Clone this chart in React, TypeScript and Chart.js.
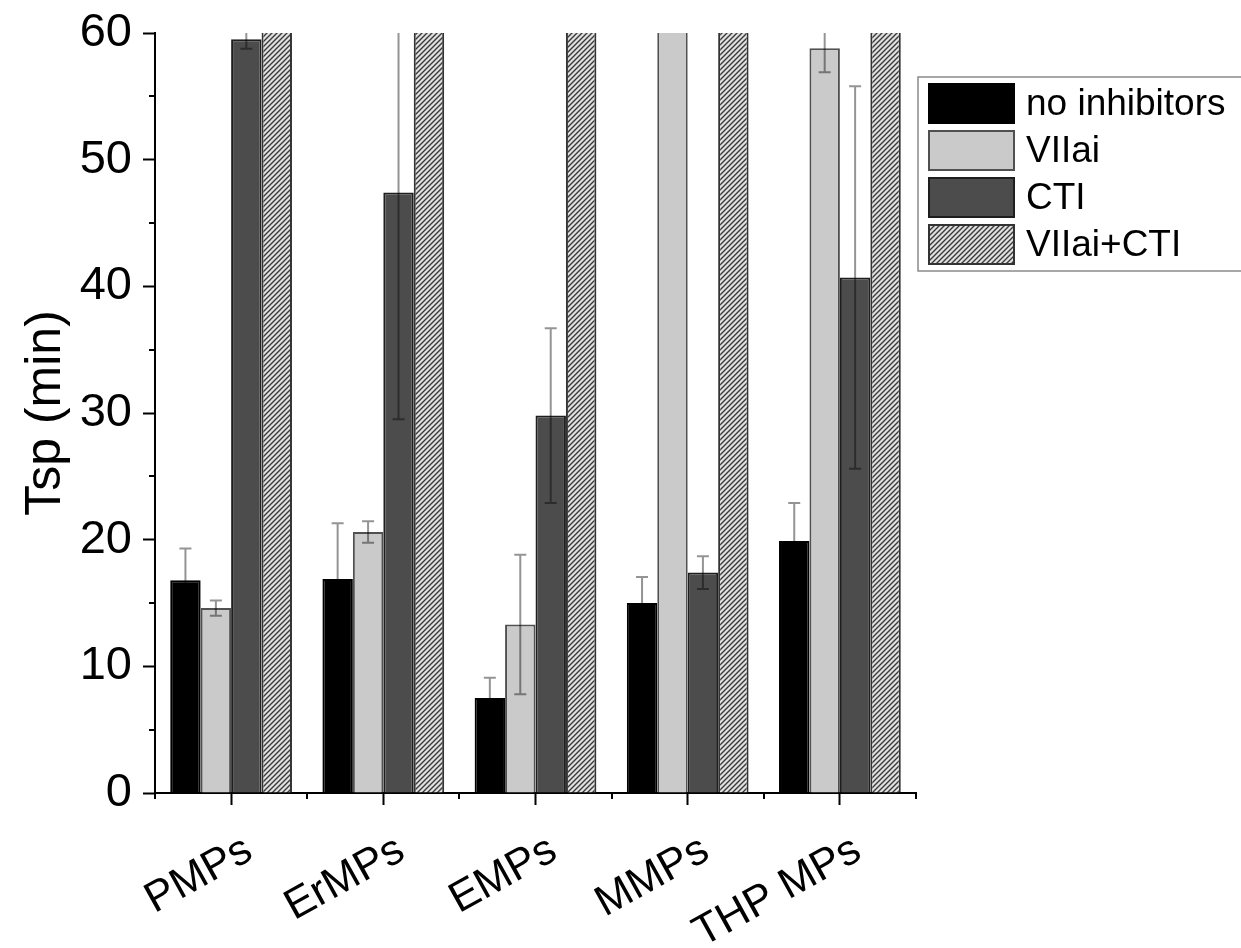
import React, { useEffect, useRef } from 'react';
import { Chart, registerables } from 'chart.js';

Chart.register(...registerables);

const FONT = '"Liberation Sans", Arial, Helvetica, sans-serif';

const categories = ['PMPs', 'ErMPs', 'EMPs', 'MMPs', 'THP MPs'];
const seriesLabels = ['no inhibitors', 'VIIai', 'CTI', 'VIIai+CTI'];

// values (min); values above 60 run off the top of the axis in the original
const noInhibitors = [16.8, 16.9, 7.5, 15.0, 19.9];
const noInhibitorsErr = [2.5, 4.4, 1.6, 2.05, 3.0];
const viiai = [14.6, 20.6, 13.3, 65, 58.8];
const viiaiErr = [0.6, 0.85, 5.5, 0, 1.9];
const cti = [59.5, 47.4, 29.8, 17.4, 40.7];
const ctiErr = [0.75, 17.9, 6.9, 1.3, 15.1];
const viiaiCti = [65, 65, 65, 65, 65];
const viiaiCtiErr = [0, 0, 0, 0, 0];

const yMin = 0;
const yMax = 60;
const yMinorStep = 5;
const yMajorStep = 10;
const yTitle = 'Tsp (min)';

function makeHatch(): CanvasPattern | string {
  const c = document.createElement('canvas');
  const s = 5;
  c.width = s;
  c.height = s;
  const g = c.getContext('2d');
  if (!g) return '#bbb';
  g.fillStyle = '#e0e0e0';
  g.fillRect(0, 0, s, s);
  g.strokeStyle = '#3a3a3a';
  g.lineWidth = 1.4;
  g.beginPath();
  g.moveTo(-1, s + 1);
  g.lineTo(s + 1, -1);
  g.moveTo(-1, 1);
  g.lineTo(1, -1);
  g.moveTo(s - 1, s + 1);
  g.lineTo(s + 1, s - 1);
  g.stroke();
  const p = g.createPattern(c, 'repeat');
  return p || '#bbb';
}

const errorBarsPlugin = {
  id: 'errorBars',
  afterDatasetsDraw(chart: any) {
    const { ctx, chartArea } = chart;
    const yScale = chart.scales.y;
    ctx.save();
    ctx.beginPath();
    ctx.rect(chartArea.left, chartArea.top, chartArea.right - chartArea.left, chartArea.bottom - chartArea.top);
    ctx.clip();
    ctx.strokeStyle = 'rgba(0,0,0,0.42)';
    ctx.lineWidth = 2;
    chart.data.datasets.forEach((ds: any, di: number) => {
      const errs: number[] = ds.errors || [];
      const meta = chart.getDatasetMeta(di);
      meta.data.forEach((bar: any, i: number) => {
        const e = errs[i];
        const v = ds.data[i];
        if (!e || v > yMax) return;
        const x = bar.x;
        const yTop = yScale.getPixelForValue(v + e);
        const yBot = yScale.getPixelForValue(v - e);
        const cap = 6;
        ctx.beginPath();
        ctx.moveTo(x, yTop);
        ctx.lineTo(x, yBot);
        ctx.moveTo(x - cap, yTop);
        ctx.lineTo(x + cap, yTop);
        ctx.moveTo(x - cap, yBot);
        ctx.lineTo(x + cap, yBot);
        ctx.stroke();
      });
    });
    ctx.restore();
  },
};

const minorTicksPlugin = {
  id: 'minorTicks',
  afterDraw(chart: any) {
    const { ctx, chartArea } = chart;
    const y = chart.scales.y;
    ctx.save();
    ctx.strokeStyle = '#000';
    ctx.lineWidth = 2;
    ctx.beginPath();
    for (let v = yMin; v <= yMax; v += yMinorStep) {
      if (v % yMajorStep === 0) continue;
      const py = Math.round(y.getPixelForValue(v));
      ctx.moveTo(chartArea.left - 6, py);
      ctx.lineTo(chartArea.left, py);
    }
    const n = categories.length;
    const w = (chartArea.right - chartArea.left) / n;
    for (let k = 0; k <= n; k++) {
      const px = Math.round(chartArea.left + k * w);
      ctx.moveTo(px, chartArea.bottom);
      ctx.lineTo(px, chartArea.bottom + 6);
    }
    ctx.stroke();
    ctx.restore();
  },
};

const legendPlugin = {
  id: 'boxLegend',
  afterDraw(chart: any) {
    const { ctx, chartArea } = chart;
    const left = chartArea.right + 2;
    const top = chartArea.top + 44;
    const boxW = 87;
    const boxH = 41;
    const step = 47;
    const n = chart.data.datasets.length;
    ctx.save();
    ctx.strokeStyle = '#8a8a8a';
    ctx.lineWidth = 1.5;
    ctx.strokeRect(left, top, 400, 6 + n * step);
    ctx.font = '37px ' + FONT;
    ctx.textBaseline = 'middle';
    ctx.textAlign = 'left';
    chart.data.datasets.forEach((ds: any, i: number) => {
      const bx = left + 10;
      const by = top + 6 + i * step;
      ctx.fillStyle = ds.backgroundColor;
      ctx.fillRect(bx, by, boxW, boxH);
      ctx.strokeStyle = ds.borderColor;
      ctx.lineWidth = 2;
      ctx.strokeRect(bx + 1, by + 1, boxW - 2, boxH - 2);
      ctx.fillStyle = '#000';
      ctx.fillText(ds.label, bx + boxW + 11, by + boxH / 2 + 1);
    });
    ctx.restore();
  },
};

export default function App() {
  const ref = useRef<HTMLCanvasElement | null>(null);
  useEffect(() => {
    if (!ref.current) return;
    const hatch = makeHatch();
    const chart = new Chart(ref.current, {
      type: 'bar',
      data: {
        labels: categories,
        datasets: [
          { label: seriesLabels[0], data: noInhibitors, errors: noInhibitorsErr, backgroundColor: '#000000', borderColor: '#000000', borderWidth: 2 } as any,
          { label: seriesLabels[1], data: viiai, errors: viiaiErr, backgroundColor: '#cacaca', borderColor: '#505050', borderWidth: 2 } as any,
          { label: seriesLabels[2], data: cti, errors: ctiErr, backgroundColor: '#4c4c4c', borderColor: '#1e1e1e', borderWidth: 2 } as any,
          { label: seriesLabels[3], data: viiaiCti, errors: viiaiCtiErr, backgroundColor: hatch, borderColor: '#333333', borderWidth: 2 } as any,
        ],
      },
      options: {
        responsive: false,
        animation: false,
        devicePixelRatio: 1,
        layout: { padding: { left: 0, top: 33, right: 325, bottom: 0 } },
        datasets: { bar: { categoryPercentage: 0.8, barPercentage: 1.0 } },
        plugins: {
          legend: { display: false },
          tooltip: { enabled: false },
        },
        scales: {
          x: {
            grid: { display: true, drawOnChartArea: false, offset: false, tickLength: 12, tickWidth: 2, tickColor: '#000' },
            border: { display: true, color: '#000', width: 2 },
            ticks: {
              color: '#000',
              font: { family: FONT, size: 43 },
              minRotation: 29,
              maxRotation: 29,
              padding: 20,
              labelOffset: 18,
            },
            afterFit(scale: any) {
              scale.height = 155;
              scale.paddingLeft = 0;
              scale.paddingRight = 0;
            },
          },
          y: {
            min: yMin,
            max: yMax,
            grid: {
              display: true,
              drawOnChartArea: false,
              tickLength: 12,
              tickWidth: 2,
              tickColor: (c: any) => (c.tick && c.tick.value % yMajorStep === 0 ? '#000' : 'rgba(0,0,0,0)'),
            },
            border: { display: true, color: '#000', width: 2 },
            ticks: {
              stepSize: yMinorStep,
              color: '#000',
              font: { family: FONT, size: 47 },
              padding: 11,
              callback: (v: any) => (Number(v) % yMajorStep === 0 ? String(v) : ''),
            },
            title: {
              display: true,
              text: yTitle,
              color: '#000',
              font: { family: FONT, size: 50 },
              padding: { top: 16, bottom: 0 },
            },
            afterFit(scale: any) {
              scale.width = 155;
              scale.paddingTop = 0;
              scale.paddingBottom = 0;
            },
          },
        },
      },
      plugins: [errorBarsPlugin, minorTicksPlugin, legendPlugin],
    } as any);
    return () => chart.destroy();
  }, []);
  return (
    <div style={{ position: 'absolute', left: 0, top: 0, width: 1241, height: 948, background: '#fff' }}>
      <canvas ref={ref} width={1241} height={948} style={{ width: 1241, height: 948, display: 'block' }} />
    </div>
  );
}
